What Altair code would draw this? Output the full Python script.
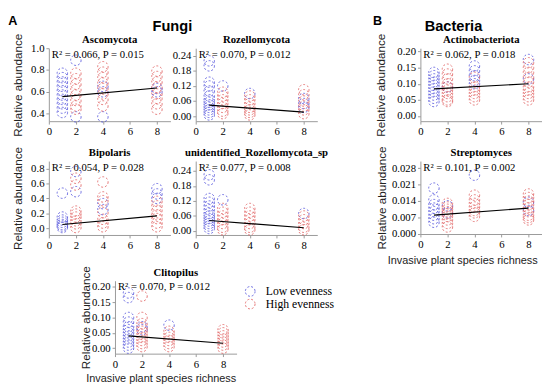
import altair as alt
import pandas as pd

SERIF = "Liberation Serif"
SANS = "Liberation Sans"

RICHNESS = [1, 2, 4, 8]
GROUPS = ["Low evenness", "High evenness"]
COLORS = ["#4d4ddb", "#e05c5c"]
X_TICKS = [0, 2, 4, 6, 8]
X_TITLE = "Invasive plant species richness"
Y_TITLE = "Relative abundance"

# values per richness level (1, 2, 4, 8)
ASCO_LOW = [[0.77, 0.73, 0.69, 0.65, 0.61, 0.57, 0.53, 0.49, 0.45, 0.41], [0.89, 0.37], [0.65, 0.60, 0.37], [0.63, 0.60]]
ASCO_HIGH = [[], [0.77, 0.72, 0.67, 0.62, 0.57, 0.52, 0.47, 0.44], [0.83, 0.78, 0.73, 0.68, 0.63, 0.58, 0.53, 0.47], [0.79, 0.74, 0.69, 0.64, 0.58, 0.54, 0.49, 0.44]]
ASCO_FIT = [0.555, 0.635]

ROZ_LOW = [[0.22, 0.20, 0.135, 0.12, 0.10, 0.08, 0.065, 0.055, 0.045, 0.035, 0.025, 0.015, 0.005], [0.12], [0.09], [0.07, 0.05, 0.035]]
ROZ_HIGH = [[], [0.095, 0.08, 0.065, 0.05, 0.035, 0.02, 0.01], [0.08, 0.065, 0.05, 0.035, 0.025, 0.015, 0.005], [0.105, 0.085, 0.06, 0.04, 0.025, 0.01]]
ROZ_FIT = [0.044, 0.016]

ACT_LOW = [[0.135, 0.125, 0.115, 0.105, 0.095, 0.085, 0.075, 0.065, 0.055, 0.045], [0.09], [0.155, 0.14, 0.125, 0.11, 0.10], [0.175, 0.115]]
ACT_HIGH = [[], [0.145, 0.13, 0.115, 0.10, 0.09, 0.08, 0.07, 0.06, 0.05, 0.045], [0.12, 0.09, 0.08, 0.07, 0.06, 0.05], [0.165, 0.15, 0.135, 0.12, 0.105, 0.09, 0.08, 0.07, 0.06, 0.05]]
ACT_FIT = [0.084, 0.10]

BIP_LOW = [[0.47, 0.15, 0.11, 0.08, 0.05, 0.03, 0.01], [0.76, 0.49], [0.33, 0.25], [0.53, 0.46, 0.40]]
BIP_HIGH = [[], [0.67, 0.58, 0.23, 0.19, 0.15, 0.10, 0.06, 0.01], [0.62, 0.42, 0.37, 0.21, 0.12, 0.07, 0.02], [0.36, 0.30, 0.24, 0.18, 0.13, 0.07, 0.02]]
BIP_FIT = [0.05, 0.165]

UNI_LOW = [[0.225, 0.205, 0.13, 0.115, 0.10, 0.085, 0.07, 0.06, 0.05, 0.04, 0.03, 0.02, 0.01], [0.125], [], [0.07]]
UNI_HIGH = [[], [0.09, 0.075, 0.06, 0.045, 0.03, 0.015, 0.005], [0.09, 0.075, 0.06, 0.045, 0.03, 0.015, 0.005], [0.06, 0.045, 0.03, 0.015, 0.005]]
UNI_FIT = [0.042, 0.013]

STR_LOW = [[0.0195, 0.0145, 0.0125, 0.011, 0.0095, 0.008, 0.0065, 0.005], [0.012, 0.009], [0.025], [0.0135, 0.01]]
STR_HIGH = [[], [0.013, 0.0115, 0.0105, 0.0095, 0.0085, 0.0075, 0.006, 0.0045, 0.003], [0.0165, 0.0145, 0.013, 0.0115, 0.01, 0.009, 0.0075], [0.017, 0.0155, 0.014, 0.0125, 0.011, 0.0095, 0.008, 0.007, 0.006]]
STR_FIT = [0.008, 0.011]

CLI_LOW = [[0.18, 0.165, 0.10, 0.085, 0.07, 0.06, 0.05, 0.04, 0.03, 0.02, 0.01, 0.0], [0.07, 0.06], [0.075], []]
CLI_HIGH = [[], [0.17, 0.10, 0.08, 0.065, 0.055, 0.045, 0.035, 0.025, 0.015, 0.005], [0.055, 0.045, 0.035, 0.025, 0.015, 0.005], [0.06, 0.05, 0.04, 0.03, 0.02, 0.01, 0.0]]
CLI_FIT = [0.04, 0.016]


def points_df(low, high):
    rows = []
    for g, series in zip(GROUPS, [low, high]):
        for r, vals in zip(RICHNESS, series):
            for v in vals:
                rows.append({"richness": r, "abundance": v, "group": g})
    return pd.DataFrame(rows)


def text_mark(label, px, py, size, font, weight="normal", align="center"):
    return alt.Chart(pd.DataFrame({"t": [label]})).mark_text(
        font=font, fontSize=size, fontWeight=weight, color="black",
        align=align, baseline="middle").encode(
        x=alt.value(px), y=alt.value(py), text="t:N")


def panel(title, low, high, fit, stat, ydomain, yticks, yfmt,
          ytitle_x=None, xtitle=None, legend=False, extra=(),
          width=125, height=75):
    pts = points_df(low, high)
    fit_df = pd.DataFrame({"richness": [RICHNESS[0], RICHNESS[-1]], "abundance": fit})
    common = dict(labelOverlap=False, tickCount=12)
    if xtitle is not None:
        xaxis = alt.Axis(values=X_TICKS, format="d", title=X_TITLE, titleFontSize=11.2,
                         titleX=xtitle[0], titleY=xtitle[1], titleBaseline="middle",
                         titleAlign="center", **common)
    else:
        xaxis = alt.Axis(values=X_TICKS, format="d", title=None, **common)
    if ytitle_x is not None:
        yaxis = alt.Axis(values=yticks, format=yfmt, title=Y_TITLE,
                         titleX=ytitle_x, titleBaseline="middle", **common)
    else:
        yaxis = alt.Axis(values=yticks, format=yfmt, title=None, **common)
    xenc = alt.X("richness:Q", scale=alt.Scale(domain=[0, 9], nice=False), axis=xaxis)
    yenc = alt.Y("abundance:Q", scale=alt.Scale(domain=ydomain, nice=False, zero=False),
                 axis=yaxis)
    if legend:
        leg = alt.Legend(title=None, orient="none", legendX=133, legendY=5, padding=0,
                         labelFont=SERIF, labelFontSize=12, labelColor="black",
                         symbolType="circle", symbolSize=100, symbolStrokeWidth=1,
                         symbolDash=[2, 2], rowPadding=-2, labelOffset=10)
    else:
        leg = None
    color = alt.Color("group:N", scale=alt.Scale(domain=GROUPS, range=COLORS), legend=leg)
    points = alt.Chart(pts).mark_point(shape="circle", filled=False, size=115,
                                       strokeDash=[2, 2], strokeWidth=1, opacity=0.85
                                       ).encode(x=xenc, y=yenc, color=color)
    line = alt.Chart(fit_df).mark_line(color="black", strokeWidth=1.2).encode(
        x="richness:Q", y="abundance:Q")
    layers = [points, line,
              text_mark(stat, 3, 7, 11, SERIF, align="left"),
              text_mark(title, width / 2, -8, 11, SERIF, weight="bold")]
    for lab, px, py, size in extra:
        layers.append(text_mark(lab, px, py, size, SANS, weight="bold"))
    return alt.layer(*layers).properties(width=width, height=height)


asco = panel("Ascomycota", ASCO_LOW, ASCO_HIGH, ASCO_FIT, "R² = 0.066, P = 0.015",
             [0.33, 1.0], [0.4, 0.6, 0.8, 1.0], ".1f", ytitle_x=-32,
             extra=[("A", -37, -28, 13), ("Fungi", 127, -23, 15)])
roz = panel("Rozellomycota", ROZ_LOW, ROZ_HIGH, ROZ_FIT, "R² = 0.070, P = 0.012",
            [-0.02, 0.27], [0, 0.06, 0.12, 0.18, 0.24], ".2f")
act = panel("Actinobacteriota", ACT_LOW, ACT_HIGH, ACT_FIT, "R² = 0.062, P = 0.018",
            [-0.016, 0.21], [0, 0.05, 0.10, 0.15, 0.20], ".2f", ytitle_x=-41,
            extra=[("B", -44, -28, 13), ("Bacteria", 34, -23, 15)])
bip = panel("Bipolaris", BIP_LOW, BIP_HIGH, BIP_FIT, "R² = 0.054, P = 0.028",
            [-0.09, 0.9], [0, 0.2, 0.4, 0.6, 0.8], ".1f", ytitle_x=-32, height=76)
uni = panel("unidentified_Rozellomycota_sp", UNI_LOW, UNI_HIGH, UNI_FIT, "R² = 0.077, P = 0.008",
            [-0.016, 0.28], [0, 0.06, 0.12, 0.18, 0.24], ".2f", height=76)
strp = panel("Streptomyces", STR_LOW, STR_HIGH, STR_FIT, "R² = 0.101, P = 0.002",
             [0, 0.031], [0, 0.007, 0.014, 0.021, 0.028], ".3f", ytitle_x=-40,
             xtitle=(43, 27))
cli = panel("Clitopilus", CLI_LOW, CLI_HIGH, CLI_FIT, "R² = 0.070, P = 0.012",
            [-0.018, 0.22], [0, 0.05, 0.10, 0.15, 0.20], ".2f", ytitle_x=-30,
            xtitle=(47, 26), legend=True)

spacer = alt.Chart(pd.DataFrame({"t": [" "]})).mark_text().encode(
    x=alt.value(0), y=alt.value(0), text="t:N").properties(width=1, height=1)

row1 = alt.concat(asco, roz, columns=2, align="each", spacing=-22).resolve_scale(color="independent")
row2 = alt.concat(bip, uni, columns=2, align="each", spacing=1).resolve_scale(color="independent")
row3 = alt.concat(spacer, cli, columns=2, align="each", spacing=31).resolve_scale(color="independent")
top_rows = alt.concat(row1, row2, columns=1, align="each", spacing=9).resolve_scale(color="independent")
left = alt.concat(top_rows, row3, columns=1, align="each", spacing=15).resolve_scale(color="independent")
right = alt.concat(act, strp, columns=1, align="each", spacing=9).resolve_scale(color="independent")
chart = alt.concat(left, right, columns=2, align="each", spacing=39).resolve_scale(
    color="independent"
).properties(
    padding={"left": 0, "top": 2, "right": 0, "bottom": 0}
).configure_view(strokeWidth=0).configure_axis(
    labelFont=SERIF, labelFontSize=11, labelColor="black",
    domainColor="#999999", tickColor="#999999", tickSize=3, labelPadding=2,
    grid=False, titleFont=SANS, titleFontSize=12, titleFontWeight="normal",
    titleColor="#222222", labelOverlap=False, labelFlush=False
)

chart.save("out.html", embed_options={"renderer": "svg", "actions": False})
